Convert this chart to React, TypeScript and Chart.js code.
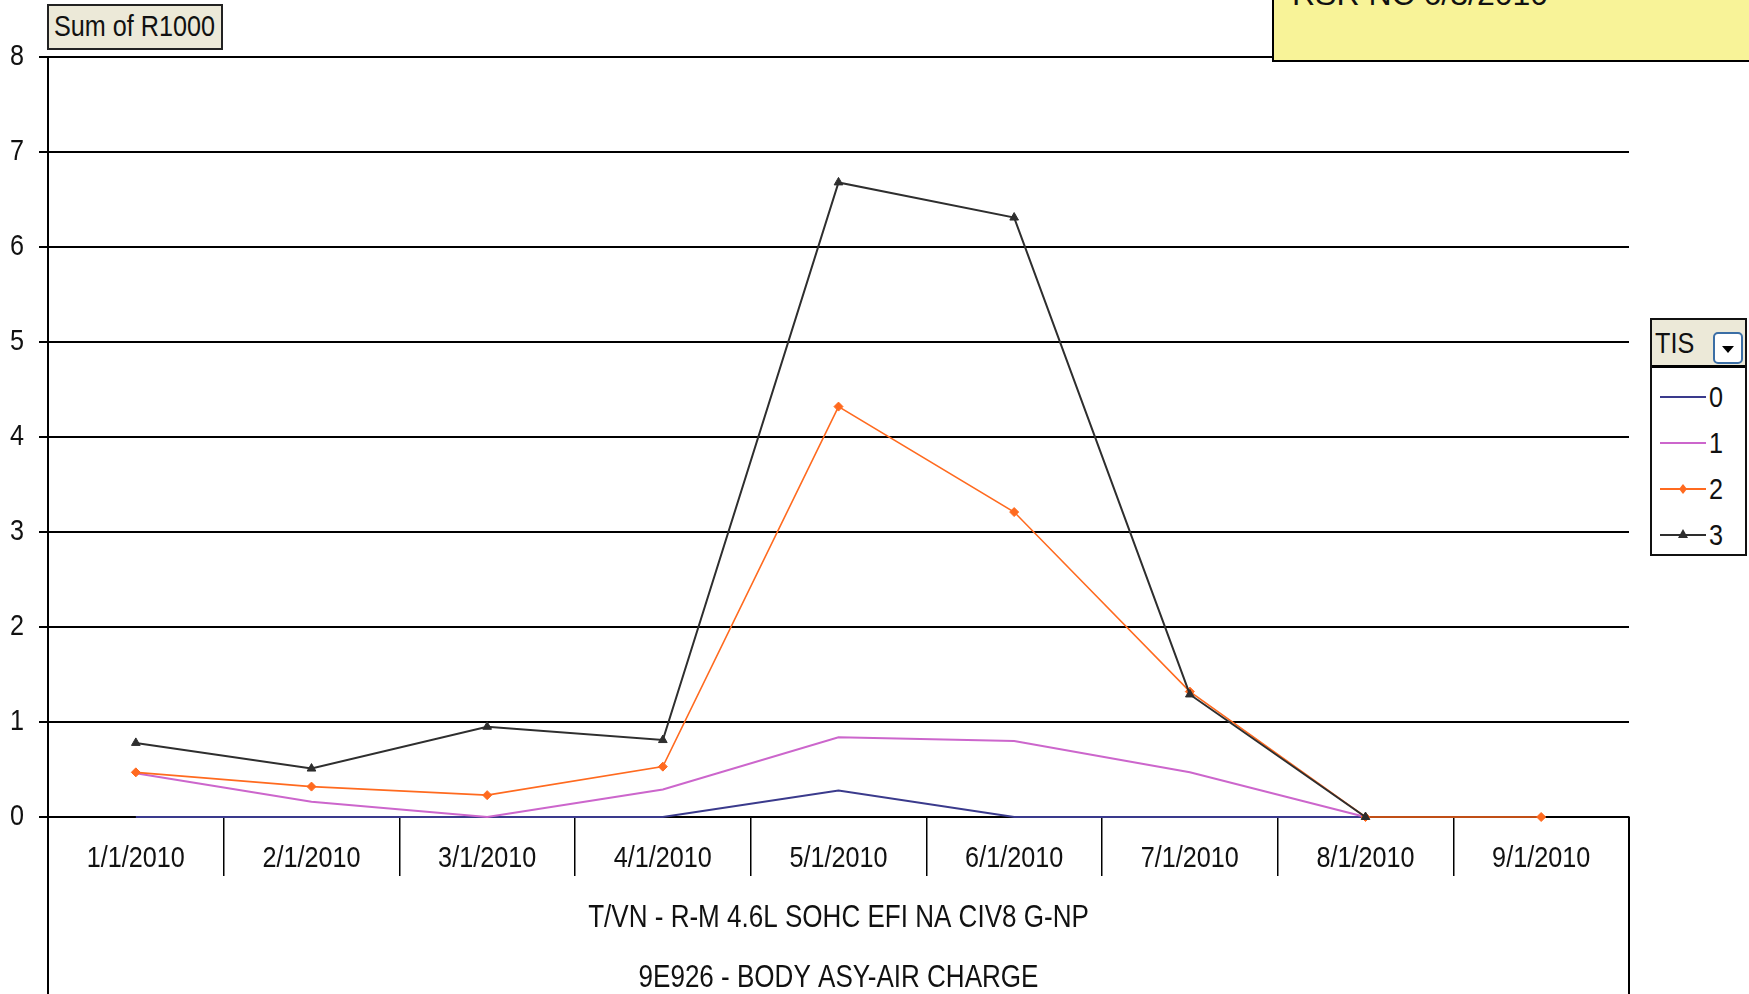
import React, { useEffect, useRef } from "react";
import { Chart, registerables } from "chart.js";

Chart.register(...registerables);

// ---- data ----
const categories = [
  "1/1/2010", "2/1/2010", "3/1/2010", "4/1/2010", "5/1/2010",
  "6/1/2010", "7/1/2010", "8/1/2010", "9/1/2010",
];
const seriesNames = ["0", "1", "2", "3"];
const tis0 = [0, 0, 0, 0, 0.28, 0, 0, 0, null];
const tis1 = [0.46, 0.16, 0, 0.29, 0.84, 0.8, 0.47, 0, null];
const tis2 = [0.47, 0.32, 0.23, 0.53, 4.32, 3.21, 1.32, 0, 0];
const tis3 = [0.78, 0.51, 0.95, 0.81, 6.68, 6.31, 1.29, 0, null];
const yMin = 0;
const yMax = 8;
const yStep = 1;
const outerLabels = ["T/VN - R-M 4.6L SOHC EFI NA CIV8 G-NP", "9E926 - BODY ASY-AIR CHARGE"];
const fieldLabel = "Sum of R1000";
const legendTitle = "TIS";
const noteText = "RSR NC 6/3/2010";

const seriesColors = ["#3a3a8c", "#cc66cc", "#ff6a1f", "#2e2e2e"];

const FONT = '"Liberation Sans", Arial, sans-serif';
const SX = 0.84; // horizontal condensing of the text

// Draws all chart text horizontally condensed, like the reference's narrow font,
// and adds the outer levels of the category axis.
const condenseAndLevelsPlugin = {
  id: "condenseAndLevels",
  beforeDraw(chart: any) {
    const ctx = chart.ctx;
    const orig = CanvasRenderingContext2D.prototype.fillText;
    ctx.fillText = function (text: string, x: number, y: number, maxWidth?: number) {
      this.save();
      this.translate(x, y);
      this.scale(SX, 1);
      if (maxWidth === undefined) orig.call(this, text, 0, 0);
      else orig.call(this, text, 0, 0, maxWidth / SX);
      this.restore();
    };
  },
  afterDraw(chart: any) {
    const { ctx, chartArea } = chart;
    const x = chart.scales.x;
    ctx.save();
    ctx.strokeStyle = "#000";
    ctx.lineWidth = 2;
    ctx.beginPath();
    ctx.moveTo(x.left, chartArea.bottom);
    ctx.lineTo(x.left, chart.height);
    ctx.moveTo(x.right, chartArea.bottom);
    ctx.lineTo(x.right, chart.height);
    ctx.stroke();
    ctx.fillStyle = "#111";
    ctx.font = `31px ${FONT}`;
    ctx.textAlign = "center";
    ctx.textBaseline = "middle";
    const cx = (x.left + x.right) / 2;
    ctx.fillText(outerLabels[0], cx, chartArea.bottom + 101);
    ctx.fillText(outerLabels[1], cx, chartArea.bottom + 161);
    ctx.restore();
    delete ctx.fillText;
  },
};

function LegendSample({ idx }: { idx: number }) {
  const c = seriesColors[idx];
  return (
    <svg width={50} height={20} style={{ display: "block" }}>
      <line x1={2} y1={10} x2={48} y2={10} stroke={c} strokeWidth={2} />
      {idx === 2 && <polygon points="25,5 29,10 25,15 21,10" fill={c} />}
      {idx === 3 && <polygon points="25,4 30,13 20,13" fill={c} />}
    </svg>
  );
}

const narrowText: React.CSSProperties = {
  display: "inline-block",
  transform: `scaleX(${SX})`,
  transformOrigin: "left center",
  whiteSpace: "nowrap",
};

export default function App() {
  const ref = useRef<HTMLCanvasElement | null>(null);

  useEffect(() => {
    if (!ref.current) return;
    const data = [tis0, tis1, tis2, tis3];
    const chart = new Chart(ref.current, {
      type: "line",
      data: {
        labels: categories,
        datasets: seriesNames.map((name, i) => ({
          label: name,
          data: data[i] as any,
          borderColor: seriesColors[i],
          backgroundColor: seriesColors[i],
          borderWidth: i === 2 ? 1.6 : 2,
          pointRadius: i === 2 ? 4.5 : i === 3 ? 5 : 0,
          pointStyle: i === 2 ? "rectRot" : "triangle",
          pointBorderWidth: 1,
          tension: 0,
          spanGaps: false,
          clip: false as any,
          order: 3 - i,
        })),
      },
      options: {
        responsive: false,
        animation: false,
        devicePixelRatio: 1,
        layout: { padding: { top: 57, right: 120, left: 0, bottom: 0 } },
        plugins: { legend: { display: false }, tooltip: { enabled: false } },
        scales: {
          x: {
            type: "category",
            offset: true,
            grid: {
              display: true,
              offset: true,
              drawOnChartArea: false,
              drawTicks: true,
              tickLength: 59,
              color: "#000",
              lineWidth: 1.5,
            },
            border: { display: true, color: "#000", width: 2 },
            ticks: {
              font: { family: FONT, size: 30 },
              color: "#111",
              padding: -35,
              maxRotation: 0,
              autoSkip: false,
            },
            afterFit: (s: any) => {
              s.height = 177;
            },
          },
          y: {
            min: yMin,
            max: yMax,
            ticks: { stepSize: yStep, font: { family: FONT, size: 30 }, color: "#111", padding: 15 },
            grid: { color: "#000", lineWidth: 2, drawTicks: true, tickLength: 9 },
            border: { display: true, color: "#000", width: 2 },
            afterFit: (s: any) => {
              s.width = 48;
            },
          },
        },
      },
      plugins: [condenseAndLevelsPlugin],
    });
    return () => chart.destroy();
  }, []);

  return (
    <div
      style={{
        position: "fixed",
        left: 0,
        top: 0,
        width: 1749,
        height: 994,
        overflow: "hidden",
        background: "#fff",
      }}
    >
      <canvas ref={ref} width={1749} height={994} style={{ position: "absolute", left: 0, top: 0 }} />
      {/* field button */}
      <div
        style={{
          position: "absolute",
          left: 47,
          top: 4,
          width: 176,
          height: 46,
          boxSizing: "border-box",
          background: "#ECE9D8",
          border: "2px solid #222",
          fontFamily: FONT,
          fontSize: 30,
          color: "#111",
          lineHeight: "40px",
          paddingLeft: 5,
          whiteSpace: "nowrap",
        }}
      >
        <span style={narrowText}>{fieldLabel}</span>
      </div>
      {/* yellow note */}
      <div
        style={{
          position: "absolute",
          left: 1272,
          top: -10,
          width: 520,
          height: 72,
          boxSizing: "border-box",
          background: "#F8F398",
          border: "2px solid #000",
        }}
      />
      <div
        style={{
          position: "absolute",
          left: 1292,
          top: -22,
          fontFamily: FONT,
          fontSize: 32,
          lineHeight: "32px",
          color: "#111",
          whiteSpace: "nowrap",
        }}
      >
        {noteText}
      </div>
      {/* legend */}
      <div
        style={{
          position: "absolute",
          left: 1650,
          top: 318,
          width: 97,
          height: 238,
          boxSizing: "border-box",
          border: "2px solid #111",
          background: "#fff",
          fontFamily: FONT,
          color: "#111",
        }}
      >
        <div
          style={{
            position: "relative",
            height: 48,
            background: "#ECE9D8",
            borderBottom: "3px solid #000",
            boxSizing: "border-box",
          }}
        >
          <span style={{ position: "absolute", left: 3, top: 6, fontSize: 30, lineHeight: "34px" }}>
            <span style={narrowText}>{legendTitle}</span>
          </span>
          <div
            style={{
              position: "absolute",
              right: 2,
              top: 12,
              width: 30,
              height: 32,
              boxSizing: "border-box",
              border: "2px solid #3b6ea5",
              borderRadius: 5,
              background: "#fff",
            }}
          >
            <div
              style={{
                position: "absolute",
                left: 7,
                top: 12,
                width: 0,
                height: 0,
                borderLeft: "6px solid transparent",
                borderRight: "6px solid transparent",
                borderTop: "7px solid #000",
              }}
            />
          </div>
        </div>
        {seriesNames.map((n, i) => (
          <div
            key={n}
            style={{
              position: "absolute",
              left: 6,
              top: 60 + i * 46,
              height: 34,
              display: "flex",
              alignItems: "center",
            }}
          >
            <LegendSample idx={i} />
            <span style={{ fontSize: 30, lineHeight: "34px", marginLeft: 1 }}>
              <span style={narrowText}>{n}</span>
            </span>
          </div>
        ))}
      </div>
    </div>
  );
}
